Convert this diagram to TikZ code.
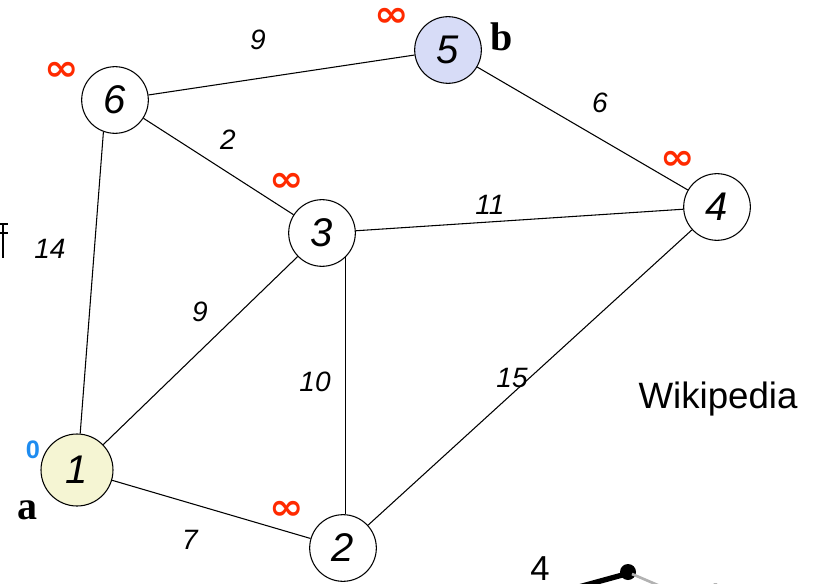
\documentclass[tikz,border=0pt]{standalone}
\usepackage{fontspec}
\newfontfamily\arialfont{Liberation Sans}
\newfontfamily\timesfont{Liberation Serif}
\newfontfamily\symfont{DejaVu Sans}
\usepackage{tikz}

\definecolor{startfill}{HTML}{F5F5D3}
\definecolor{endfill}{HTML}{D7DCF7}
\definecolor{infred}{HTML}{FF2A00}
\definecolor{zeroblue}{HTML}{1E8CF0}

\tikzset{
    vertex/.style={circle, draw, line width=0.8pt, minimum size=50pt, inner sep=0pt,
        font=\arialfont\itshape\fontsize{30}{30}\selectfont},
    weight/.style={font=\arialfont\itshape\fontsize{21}{21}\selectfont},
    dist/.style={text=infred, inner sep=1pt, xscale=1.15, font=\symfont\bfseries\fontsize{27}{27}\selectfont},
    tag/.style={font=\timesfont\bfseries\fontsize{30}{30}\selectfont}
}

\begin{document}
\begin{tikzpicture}[x=0.75pt, y=-0.75pt, line width=0.8pt]
    \useasboundingbox (0,0) rectangle (816,584);
    \clip (0,0) rectangle (816,584);

    \node[vertex, fill=startfill, minimum size=54pt] (n1) at (77,470) {1};
    \node[vertex] (n2) at (343,548) {2};
    \node[vertex] (n3) at (322,233) {3};
    \node[vertex] (n4) at (717,207) {4};
    \node[vertex, fill=endfill] (n5) at (448,50) {5};
    \node[vertex] (n6) at (115,100) {6};

    \draw (n6) -- (n5);
    \draw (n5) -- (n4);
    \draw (n6) -- (n3);
    \draw (n3) -- (n4);
    \draw (n6.250) -- (n1.85);
    \draw (n1) -- (n3);
    \draw (n3.-45) -- (n3.-45 |- n2.north);
    \draw (n2) -- (n4);
    \draw (n1) -- (n2);

    \node[weight] (w65) at (258,40) {9};
    \node[weight] (w54) at (600,103) {6};
    \node[weight] (w63) at (228,140) {2};
    \node[weight] (w34) at (490,205) {11};
    \node[weight] (w61) at (50,249) {14};
    \node[weight] (w13) at (200,312) {9};
    \node[weight] (w32) at (315,382) {10};
    \node[weight] (w24) at (512,378) {15};
    \node[weight] (w12) at (190,540) {7};

    \node[dist] (d5) at (392,17) {∞};
    \node[dist] (d6) at (62,71) {∞};
    \node[dist] (d3) at (287,182) {∞};
    \node[dist] (d4) at (678,160) {∞};
    \node[dist] (d2) at (287,510) {∞};
    \node[text=zeroblue, font=\arialfont\bfseries\fontsize{19}{19}\selectfont] (d1) at (33,450) {0};

    \node[tag] (a) at (27,510) {a};
    \node[tag] (b) at (502,37) {b};

    \node[font=\arialfont\fontsize{27.5}{27.5}\selectfont] (wiki) at (718,399) {Wikipedia};

    \draw (0,224) -- (8,224);
    \draw (0,233) -- (8,233);
    \draw (3,224) -- (3,258);

    \node[font=\arialfont\fontsize{26}{26}\selectfont, inner sep=1pt] (four) at (540,569) {4};
    \node[font=\arialfont\fontsize{26}{26}\selectfont, text=black!35] (fourb) at (712,596) {4};
    \fill (628,572) circle (8);
    \draw[line width=4pt] (575,588) -- (626,574);
    \draw[black!30, line width=2pt] (632,574) -- (660,586);
\end{tikzpicture}
\end{document}
